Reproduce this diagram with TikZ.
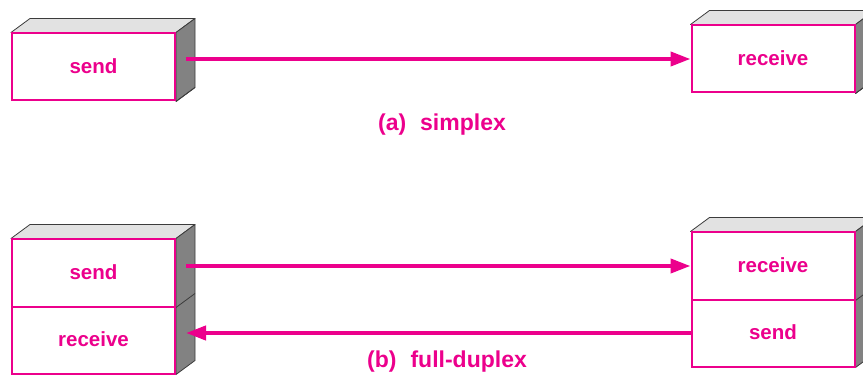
\documentclass[tikz,border=0pt]{standalone}
\usepackage{fontspec}
\setmainfont{Liberation Sans}
\usetikzlibrary{arrows.meta,calc}
\definecolor{pk}{RGB}{236,0,140}
\definecolor{topgray}{RGB}{226,226,226}
\definecolor{sidegray}{RGB}{130,130,130}
\definecolor{edgegray}{RGB}{60,60,60}
\pgfdeclarelayer{bg}
\pgfsetlayers{bg,main}
\newcommand{\boxtxt}[1]{\raisebox{2pt}{#1}}
\begin{document}
\begin{tikzpicture}[x=1pt,y=-1pt,
  frontbox/.style={draw=pk,line width=2pt,fill=white,minimum width=163pt,minimum height=67pt,inner sep=0pt,text=pk,font=\fontsize{20.5}{24}\selectfont\bfseries},
  topface/.style={fill=topgray,draw=edgegray,line width=0.8pt,line join=round},
  sideface/.style={fill=sidegray,draw=edgegray,line width=0.8pt,line join=round},
  conn/.style={draw=pk,line width=4pt,-{Triangle[length=20pt,width=14pt]}},
  caption/.style={text=pk,font=\fontsize{23}{26}\selectfont\bfseries}]
\useasboundingbox (0,0) rectangle (863,377);

% (a) simplex
\node[frontbox] (s1) at (93.5,67) {\boxtxt{send}};
\node[frontbox] (r1) at (773,59) {\boxtxt{receive}};
% (b) full duplex
\node[frontbox] (ls) at (93.5,273) {\boxtxt{send}};
\node[frontbox] (lr) at (93.5,340) {\boxtxt{receive}};
\node[frontbox] (rr) at (773,266) {\boxtxt{receive}};
\node[frontbox] (rs) at (773,333) {\boxtxt{send}};

\begin{pgfonlayer}{bg}
  \foreach \t/\b in {s1/s1,r1/r1,ls/lr,rr/rs}{
    \filldraw[topface] (\t.north west) -- ++(19,-14) -- ($(\t.north east)+(19,-14)$) -- (\t.north east) -- cycle;
    \filldraw[sideface] (\t.north east) -- ++(19,-14) -- ($(\b.south east)+(19,-14)$) -- (\b.south east) -- cycle;
    \draw[edgegray,line width=0.8pt] (\t.south east) -- ++(19,-14);
  }
\end{pgfonlayer}

\draw[conn] ([xshift=10pt]s1.east |- r1.west) -- (r1.west);
\draw[conn] ([xshift=10pt]ls.east |- rr.west) -- (rr.west);
\draw[conn] (rs.west) -- ([xshift=10pt]lr.east |- rs.west);

\node[caption] (capa) at (442,125) {(a)\hspace{14pt}simplex};
\node[caption] (capb) at (447,362) {(b)\hspace{14pt}full-duplex};
\end{tikzpicture}
\end{document}
